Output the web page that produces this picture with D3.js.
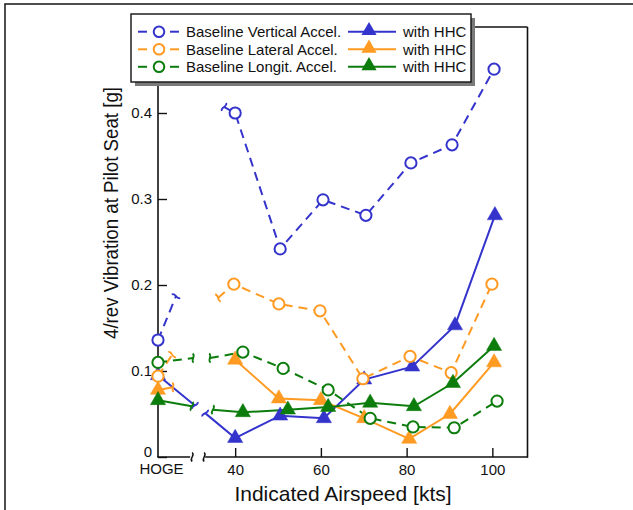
<!DOCTYPE html>
<html><head><meta charset="utf-8">
<script src="https://cdn.jsdelivr.net/npm/d3@7"></script>
<style>body{margin:0;background:#fff}svg{display:block}text{font-family:"Liberation Sans",Arial,sans-serif;fill:#111}</style>
</head><body>
<svg id="c" width="633" height="510"></svg>
<script>
// ---------- data ----------
const HOGE = 22; // position of HOGE category on the airspeed axis
const tickValues = [HOGE, 40, 60, 80, 100];
const tickLabels = ["HOGE", "40", "60", "80", "100"];
const yTicks = [0, 0.1, 0.2, 0.3, 0.4];
const yTickLabels = ["0", "0.1", "0.2", "0.3", "0.4"];

const blueBaseX = [HOGE, 40, 50.5, 60.5, 70.5, 81.0, 90.6, 100.4];
const blueBaseY = [0.136, 0.400, 0.242, 0.299, 0.281, 0.342, 0.363, 0.451];
const blueHHCX = [HOGE, 40, 50.5, 60.7, 70.1, 81.3, 91.3, 100.6];
const blueHHCY = [0.095, 0.022, 0.048, 0.045, 0.090, 0.105, 0.153, 0.281];
const orangeBaseX = [HOGE, 39.7, 50.2, 59.8, 69.8, 80.8, 90.4, 99.9];
const orangeBaseY = [0.094, 0.201, 0.178, 0.170, 0.091, 0.117, 0.098, 0.201];
const orangeHHCX = [HOGE, 40, 50.2, 60.0, 70.1, 80.6, 90.1, 100.4];
const orangeHHCY = [0.078, 0.113, 0.068, 0.066, 0.045, 0.021, 0.050, 0.110];
const greenBaseX = [HOGE, 41.8, 51.2, 61.7, 71.5, 81.5, 91.1, 101.1];
const greenBaseY = [0.110, 0.122, 0.103, 0.078, 0.045, 0.035, 0.034, 0.065];
const greenHHCX = [HOGE, 41.8, 52.3, 61.7, 71.5, 81.7, 90.8, 100.4];
const greenHHCY = [0.066, 0.052, 0.055, 0.058, 0.063, 0.059, 0.086, 0.129];

// axis-break pieces between HOGE and the first airspeed point: [x, value] where the line stops / resumes
const blueBaseBreak = [[26.2, 0.187], [37.4, 0.407]];
const blueHHCBreak = [[30.6, 0.060], [33.0, 0.051]];
const orangeBaseBreak = [[25.3, 0.119], [36.0, 0.185]];
const orangeHHCBreak = [[25.5, 0.081], null];
const greenBaseBreak = [[30.2, 0.115], [34.1, 0.115]];
const greenHHCBreak = [[29.9, 0.059], [34.8, 0.055]];
const xAxisBreak = [29.5, 33.0];

const legendLabels = ["Baseline Vertical Accel.", "Baseline Lateral Accel.", "Baseline Longit. Accel."];
const hhcLabel = "with HHC";

const BLUE = "#3434cc", ORANGE = "#ff9a22", GREEN = "#0c7d0c";

const series = [
  {x: blueBaseX, y: blueBaseY, brk: blueBaseBreak, color: BLUE, base: true},
  {x: blueHHCX, y: blueHHCY, brk: blueHHCBreak, color: BLUE, base: false},
  {x: orangeBaseX, y: orangeBaseY, brk: orangeBaseBreak, color: ORANGE, base: true},
  {x: orangeHHCX, y: orangeHHCY, brk: orangeHHCBreak, color: ORANGE, base: false},
  {x: greenBaseX, y: greenBaseY, brk: greenBaseBreak, color: GREEN, base: true},
  {x: greenHHCX, y: greenHHCY, brk: greenHHCBreak, color: GREEN, base: false}
];

// ---------- layout ----------
const svg = d3.select("#c");
const L = 158, R = 527.5, T = 27, B = 457;
const x = d3.scaleLinear().domain([HOGE, 108.2]).range([L, R]);
const y = d3.scaleLinear().domain([0, 0.5]).range([B, T]);

// outer border
svg.append("rect").attr("x", 5).attr("y", 4).attr("width", 650).attr("height", 530)
  .attr("fill", "none").attr("stroke", "#222").attr("stroke-width", 1.6);

// frame
const fr = svg.append("g").attr("stroke", "#111").attr("stroke-width", 1.6).attr("fill", "none");
fr.append("line").attr("x1", L).attr("x2", L).attr("y1", B).attr("y2", T);
fr.append("line").attr("x1", L).attr("x2", R).attr("y1", T).attr("y2", T);
fr.append("line").attr("x1", R).attr("x2", R).attr("y1", T).attr("y2", B + 0.8);
fr.append("line").attr("x1", L - 0.8).attr("x2", x(xAxisBreak[0])).attr("y1", B).attr("y2", B);
fr.append("line").attr("x1", x(xAxisBreak[1])).attr("x2", R).attr("y1", B).attr("y2", B);

const squig = "M 0 -4.5 C 3.5 -2, -3.5 2, 0 4.5";
function squiggle(g, px, py, angleDeg, color, w) {
  g.append("path").attr("d", squig)
    .attr("transform", `translate(${px},${py}) rotate(${angleDeg})`)
    .attr("fill", "none").attr("stroke", color).attr("stroke-width", w || 1.6);
}
squiggle(svg, x(xAxisBreak[0]) + 2, B, 0, "#111", 1.5);
squiggle(svg, x(xAxisBreak[1]) - 1, B, 0, "#111", 1.5);

// y axis (inward ticks)
const yAxis = d3.axisLeft(y).tickValues(yTicks).tickSize(-9).tickPadding(6)
  .tickFormat((d, i) => yTickLabels[i]);
const gy = svg.append("g").attr("transform", `translate(${L},0)`).call(yAxis);
gy.select(".domain").remove();
gy.selectAll(".tick line").attr("stroke", "#111").attr("stroke-width", 1.4);
gy.selectAll(".tick text").attr("font-size", 15).attr("font-family", "Liberation Sans, Arial, sans-serif").attr("fill", "#111")
  .attr("y", d => d === 0 ? -5.5 : 0);

// x axis (inward ticks)
const xAxis = d3.axisBottom(x).tickValues(tickValues).tickSize(-9).tickPadding(0)
  .tickFormat((d, i) => tickLabels[i]);
const gx = svg.append("g").attr("transform", `translate(0,${B})`).call(xAxis);
gx.select(".domain").remove();
gx.selectAll(".tick line").attr("stroke", "#111").attr("stroke-width", 1.4)
  .attr("opacity", d => d === HOGE ? 0 : 1);
gx.selectAll(".tick text").attr("font-size", 15).attr("font-family", "Liberation Sans, Arial, sans-serif")
  .attr("fill", "#111").attr("dy", null).attr("y", d => d === HOGE ? 17 : 18)
  .attr("dx", d => d === HOGE ? 3 : 0);

// titles
svg.append("text").attr("x", 343).attr("y", 501).attr("text-anchor", "middle")
  .attr("font-size", 21).text("Indicated Airspeed [kts]");
svg.append("text").attr("transform", "translate(118,213) rotate(-90)").attr("text-anchor", "middle")
  .attr("font-size", 20.5).attr("textLength", 252).attr("lengthAdjust", "spacingAndGlyphs")
  .text("4/rev Vibration at Pilot Seat [g]");

// ---------- series ----------
const line = d3.line().x(d => x(d[0])).y(d => y(d[1]));
const gLines = svg.append("g"), gMarks = svg.append("g");
series.forEach(s => {
  const pts = s.x.map((v, i) => [v, s.y[i]]);
  const dash = s.base ? "9,6" : null;
  const first = [pts[0], s.brk[0]];
  const rest = s.brk[1] ? [s.brk[1]].concat(pts.slice(1)) : pts.slice(1);
  [first, rest].forEach(p => {
    gLines.append("path").attr("d", line(p)).attr("fill", "none")
      .attr("stroke", s.color).attr("stroke-width", 2).attr("stroke-dasharray", dash);
  });
  // break marks
  const a0 = Math.atan2(y(s.brk[0][1]) - y(pts[0][1]), x(s.brk[0][0]) - x(pts[0][0])) * 180 / Math.PI;
  squiggle(gLines, x(s.brk[0][0]), y(s.brk[0][1]), a0, s.color, 1.8);
  if (s.brk[1]) {
    const a1 = Math.atan2(y(pts[1][1]) - y(s.brk[1][1]), x(pts[1][0]) - x(s.brk[1][0])) * 180 / Math.PI;
    squiggle(gLines, x(s.brk[1][0]), y(s.brk[1][1]), a1, s.color, 1.8);
  }
  if (s.base) {
    gMarks.selectAll(null).data(pts).enter().append("circle")
      .attr("cx", d => x(d[0])).attr("cy", d => y(d[1])).attr("r", 5.6)
      .attr("fill", "#fff").attr("stroke", s.color).attr("stroke-width", 2);
  } else {
    gMarks.selectAll(null).data(pts).enter().append("path")
      .attr("d", d3.symbol(d3.symbolTriangle, 100)())
      .attr("transform", d => `translate(${x(d[0])},${y(d[1])})`)
      .attr("fill", s.color).attr("stroke", s.color).attr("stroke-width", 0.5);
  }
});

// ---------- legend ----------
const lg = svg.append("g");
lg.append("rect").attr("x", 135).attr("y", 18).attr("width", 340).attr("height", 68).attr("fill", "#7a7a7a");
lg.append("rect").attr("x", 131).attr("y", 14).attr("width", 340).attr("height", 68)
  .attr("fill", "#fff").attr("stroke", "#111").attr("stroke-width", 1.4);
const rowsY = [31.7, 49.3, 66.8];
const cols = [BLUE, ORANGE, GREEN];
legendLabels.forEach((lab, i) => {
  const cy = rowsY[i], c = cols[i];
  lg.append("line").attr("x1", 138).attr("x2", 147).attr("y1", cy).attr("y2", cy).attr("stroke", c).attr("stroke-width", 2);
  lg.append("line").attr("x1", 170).attr("x2", 179).attr("y1", cy).attr("y2", cy).attr("stroke", c).attr("stroke-width", 2);
  lg.append("circle").attr("cx", 159).attr("cy", cy).attr("r", 5.3).attr("fill", "#fff").attr("stroke", c).attr("stroke-width", 2);
  lg.append("text").attr("x", 186).attr("y", cy + 5.3).attr("font-size", 15).text(lab);
  lg.append("line").attr("x1", 348).attr("x2", 396).attr("y1", cy).attr("y2", cy).attr("stroke", c).attr("stroke-width", 2);
  lg.append("path").attr("d", d3.symbol(d3.symbolTriangle, 100)())
    .attr("transform", `translate(369,${cy - 1})`).attr("fill", c);
  lg.append("text").attr("x", 403).attr("y", cy + 5.3).attr("font-size", 15).text(hhcLabel);
});
</script>
</body></html>
